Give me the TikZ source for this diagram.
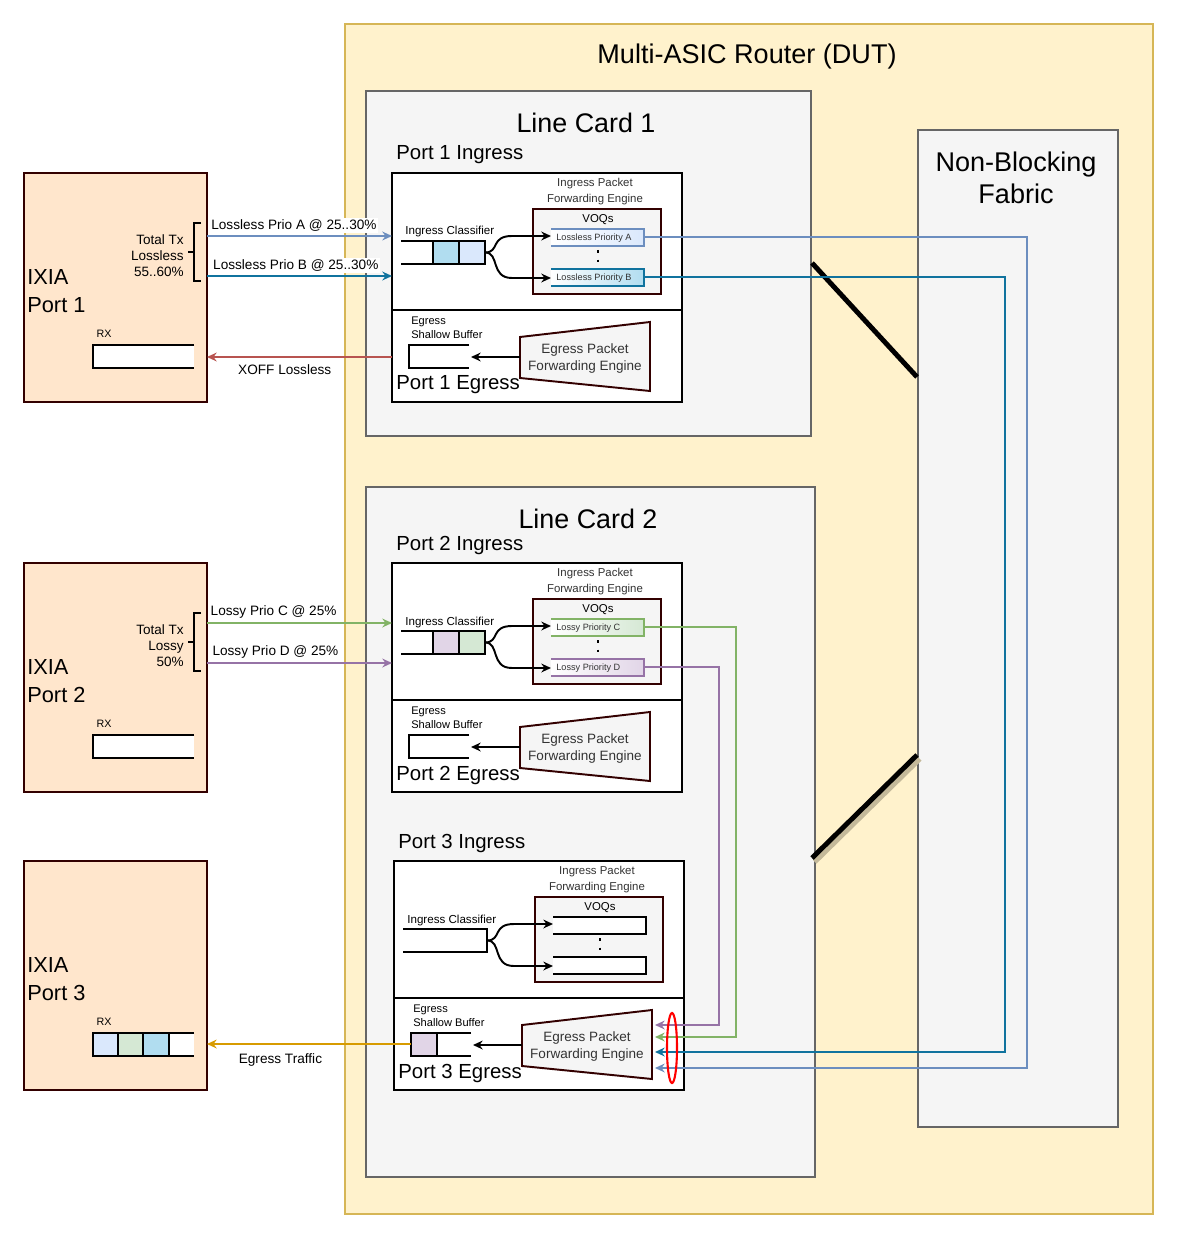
\documentclass[tikz,border=0pt]{standalone}
\usepackage{fontspec}
\setmainfont{Liberation Sans}
\usetikzlibrary{arrows.meta}

\definecolor{dutfill}{HTML}{FFF2CC}
\definecolor{dutdraw}{HTML}{D6B656}
\definecolor{cardfill}{HTML}{F5F5F5}
\definecolor{carddraw}{HTML}{666666}
\definecolor{ixiafill}{HTML}{FFE6CC}
\definecolor{darkred}{HTML}{330000}
\definecolor{prA}{HTML}{6C8EBF}
\definecolor{prAf}{HTML}{DAE8FC}
\definecolor{prB}{HTML}{10739E}
\definecolor{prBf}{HTML}{B1DDF0}
\definecolor{prC}{HTML}{82B366}
\definecolor{prCf}{HTML}{D5E8D4}
\definecolor{prD}{HTML}{9673A6}
\definecolor{prDf}{HTML}{E1D5E7}
\definecolor{xoff}{HTML}{B85450}
\definecolor{egr}{HTML}{D79B00}
\definecolor{shadowc}{HTML}{C4B99A}
\definecolor{txt}{HTML}{333333}

\newcommand{\fsz}[2]{\fontsize{#1}{#2}\selectfont}

\tikzset{
	every node/.style={inner sep=0pt, text=black},
	dut/.style={fill=dutfill, draw=dutdraw, line width=1.2pt},
	card/.style={fill=cardfill, draw=carddraw, line width=1.2pt},
	ixia/.style={fill=ixiafill, draw=darkred, line width=1.2pt},
	portbox/.style={fill=white, draw=black, line width=1.2pt},
	voqbox/.style={fill=cardfill, draw=darkred, line width=1.1pt},
	engine/.style={fill=cardfill, draw=darkred, line width=1.1pt},
	qline/.style={draw=black, line width=1.1pt},
	qA/.style={qline, draw=prA, left color=white, right color=prAf},
	qB/.style={qline, draw=prB, left color=white, right color=prBf},
	qC/.style={qline, draw=prC, left color=white, right color=prCf},
	qD/.style={qline, draw=prD, left color=white, right color=prDf},
	qN/.style={qline, fill=white},
	flow/.style={->, line width=0.95pt},
	elabel/.style={fill=white, inner sep=1pt, font=\fsz{7.75pt}{9pt}},
	fablink/.style={line width=2.8pt}
}

\begin{document}
\begin{tikzpicture}[x=0.02cm, y=-0.02cm, >={Stealth[length=5.5pt, width=5pt]}]
	\useasboundingbox (0,0) rectangle (1182,1243);

	% router, line cards, fabric
	\draw[dut] (345,24) rectangle (1153,1214);
	\node[font=\fsz{15.4pt}{18pt}] (dut) at (747,57) {Multi-ASIC Router (DUT)};
	\draw[card] (366,91) rectangle (811,436);
	\node[font=\fsz{15.3pt}{18pt}] (lc1) at (586,123) {Line Card 1};
	\draw[card] (366,487) rectangle (815,1177);
	\node[font=\fsz{15.3pt}{18pt}] (lc2) at (588,519) {Line Card 2};
	\draw[card] (918,130) rectangle (1118,1127);
	\node[font=\fsz{15.4pt}{18.1pt}, align=center] (fab) at (1016,178) {Non-Blocking\\Fabric};

	\coordinate (lc1r) at (812,263);
	\coordinate (fab1) at (917,377);
	\coordinate (lc2r) at (812,858);
	\coordinate (fab2) at (917,755);
	\draw[fablink] (lc1r) -- (fab1);
	\draw[fablink, shadowc, transform canvas={xshift=1.6pt, yshift=-2.2pt}] (lc2r) -- (fab2);
	\draw[fablink] (lc2r) -- (fab2);

	% port blocks
	\foreach \dx/\dy/\n/\qa/\qb/\ta/\tb in {0/0/1/A/B/Lossless Priority A/Lossless Priority B, 0/390/2/C/D/Lossy Priority C/Lossy Priority D, 2/688/3/N/N/{}/{}}{
	\begin{scope}[shift={(\dx,\dy)}]
		\node[anchor=west, font=\fsz{11.6pt}{14pt}] (ping\n) at (396,155) {Port \n\ Ingress};
		\draw[portbox] (392,173) rectangle (682,402);
		\draw[portbox] (392,310) -- (682,310);
		\node[align=center, font=\fsz{6.5pt}{9.1pt}, text=txt] (ipfe\n) at (595,192) {Ingress Packet\\Forwarding Engine};
		\draw[voqbox] (533,209) rectangle (661,294);
		\node[font=\fsz{6.5pt}{8pt}] (voqs\n) at (598,220) {VOQs};
		\draw[q\qa] (551,229) -- (644,229) -- (644,246) -- (551,246);
		\draw[q\qb] (551,269) -- (644,269) -- (644,286) -- (551,286);
		\node[anchor=west, font=\fsz{5.2pt}{6pt}, text=txt] (ta\n) at (556,238.5) {\ta};
		\node[anchor=west, font=\fsz{5.2pt}{6pt}, text=txt] (tb\n) at (556,278.5) {\tb};
		\draw[line width=1.5pt, dash pattern=on 1.5pt off 4pt] (598,250) -- (598,268);
		\coordinate (qa\n) at (644,237);
		\coordinate (qb\n) at (644,277);
		\coordinate (qai\n) at (551,236);
		\coordinate (qbi\n) at (551,278);

		\node[anchor=west, font=\fsz{6.6pt}{8pt}] (icl\n) at (405,232) {Ingress Classifier};
		\draw[qline] (401,241) -- (485,241) -- (485,264) -- (401,264);
		\coordinate (cls\n) at (485,252.5);
		\draw[->, line width=1.1pt] (cls\n) .. controls (500,252.5) and (490,236) .. (512,236) -- (qai\n);
		\draw[->, line width=1.1pt] (cls\n) .. controls (500,252.5) and (490,278) .. (512,278) -- (qbi\n);

		\node[anchor=west, align=left, font=\fsz{6.3pt}{7.9pt}] (esb\n) at (411,327.5) {Egress\\Shallow Buffer};
		\draw[qline] (469,345) -- (409,345) -- (409,368) -- (469,368);
		\draw[engine] (520,337) -- (650,322) -- (650,391) -- (520,378) -- cycle;
		\node[align=center, font=\fsz{7.7pt}{10.2pt}, text=txt] (epfe\n) at (585,358.5) {Egress Packet\\Forwarding Engine};
		\coordinate (eng\n) at (520,357);
		\coordinate (ebuf\n) at (471,357);
		\draw[->, line width=1.1pt] (eng\n) -- (ebuf\n);
		\node[anchor=west, font=\fsz{11.6pt}{14pt}] (peg\n) at (396,385) {Port \n\ Egress};
	\end{scope}
	}

	% filled cells
	\filldraw[qline, fill=prBf] (433,241) rectangle (459,264);
	\filldraw[qline, fill=prAf] (459,241) rectangle (485,264);
	\filldraw[qline, fill=prDf] (433,631) rectangle (459,654);
	\filldraw[qline, fill=prCf] (459,631) rectangle (485,654);
	\filldraw[qline, fill=prDf] (411,1033) rectangle (437,1056);

	% IXIA ports
	\foreach \y/\n in {173/1, 563/2, 861/3}{
	\begin{scope}[shift={(0,\y)}]
		\draw[ixia] (24,0) rectangle (207,229);
		\node[anchor=west, align=left, font=\fsz{12.4pt}{15.9pt}] (ixia\n) at (27,118.5) {IXIA\\Port \n};
		\node[font=\fsz{6.1pt}{7pt}] (rxl\n) at (104,161) {RX};
		\filldraw[qline, fill=white] (194,172) -- (93,172) -- (93,195) -- (194,195);
	\end{scope}
	}
	\filldraw[qline, fill=prAf] (93,1033) rectangle (118,1056);
	\filldraw[qline, fill=prCf] (118,1033) rectangle (143,1056);
	\filldraw[qline, fill=prBf] (143,1033) rectangle (169,1056);

	\draw[line width=1.1pt] (201,223) -- (194,223) -- (194,281) -- (201,281) (188,252) -- (194,252);
	\node[anchor=east, align=right, font=\fsz{7.7pt}{9.1pt}] (tx1) at (184,255.5) {Total Tx\\Lossless\\55..60\%};
	\draw[line width=1.1pt] (201,613) -- (194,613) -- (194,671) -- (201,671) (188,642) -- (194,642);
	\node[anchor=east, align=right, font=\fsz{7.7pt}{9.1pt}] (tx2) at (184,645.5) {Total Tx\\Lossy\\50\%};

	% traffic in and out
	\coordinate (txA) at (207,236);
	\coordinate (rxA) at (392,236);
	\coordinate (txB) at (207,276);
	\coordinate (rxB) at (392,276);
	\coordinate (out1) at (392,357);
	\coordinate (rx1) at (207,357);
	\coordinate (txC) at (207,623);
	\coordinate (rxC) at (392,623);
	\coordinate (txD) at (207,663);
	\coordinate (rxD) at (392,663);
	\coordinate (eb3) at (411,1044);
	\coordinate (rx3) at (207,1044);
	\draw[flow, prA] (txA) -- node[elabel, pos=0.47, above=1pt] {Lossless Prio A @ 25..30\%} (rxA);
	\draw[flow, prB] (txB) -- node[elabel, pos=0.48, above=1pt] {Lossless Prio B @ 25..30\%} (rxB);
	\draw[flow, xoff] (out1) -- node[elabel, pos=0.58, below=3pt] {XOFF Lossless} (rx1);
	\draw[flow, prC] (txC) -- node[elabel, pos=0.36, above=1pt] {Lossy Prio C @ 25\%} (rxC);
	\draw[flow, prD] (txD) -- node[elabel, pos=0.37, above=1pt] {Lossy Prio D @ 25\%} (rxD);
	\draw[flow, egr] (eb3) -- node[elabel, pos=0.64, below=4pt] {Egress Traffic} (rx3);

	% through the fabric to port 3
	\coordinate (fabA) at (1027,1068);
	\coordinate (fabB) at (1005,1052);
	\coordinate (fabC) at (736,1037);
	\coordinate (fabD) at (719,1025);
	\coordinate (e3A) at (655,1068);
	\coordinate (e3B) at (655,1052);
	\coordinate (e3C) at (655,1037);
	\coordinate (e3D) at (655,1025);
	\draw[flow, prA] (qa1) -| (fabA) -- (e3A);
	\draw[flow, prB] (qb1) -| (fabB) -- (e3B);
	\draw[flow, prC] (qa2) -| (fabC) -- (e3C);
	\draw[flow, prD] (qb2) -| (fabD) -- (e3D);
	\draw[red, line width=1.2pt] (672,1048) ellipse [x radius=5, y radius=35];
\end{tikzpicture}
\end{document}
